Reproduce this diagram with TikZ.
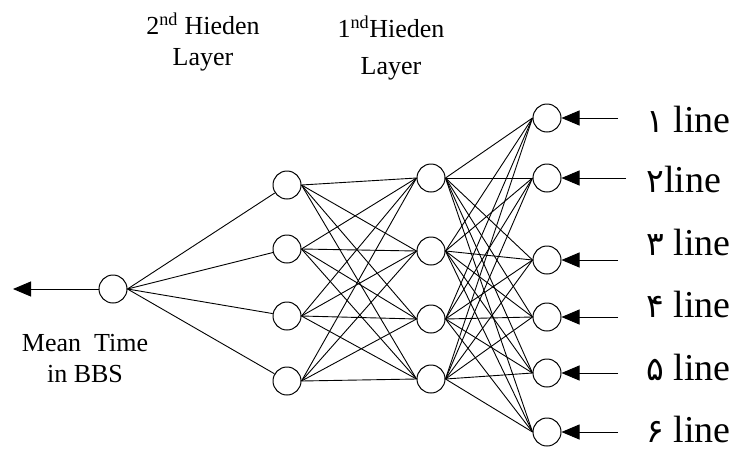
\documentclass[tikz,border=0pt]{standalone}
\usepackage{fontspec}
\setmainfont{Liberation Serif}
\newfontfamily\arabicfont[Script=Arabic]{DejaVu Sans}
\TeXXeTstate=1
\usetikzlibrary{arrows.meta}

\tikzset{%
  every neuron/.style={
    circle,
    draw,
    line width=1pt,
    minimum size=28pt,
    inner sep=0pt
  },
  line label/.style={
    anchor=base west,
    inner sep=0pt,
    font=\fontsize{38}{42}\selectfont
  },
  layer label/.style={
    align=center,
    inner sep=0pt,
    font=\fontsize{26}{31}\selectfont
  },
}

\begin{document}
\begin{tikzpicture}[x=1pt, y=-1pt, >={Triangle[length=18pt, width=15pt]}, line width=0.9pt]
\useasboundingbox (0,0) rectangle (738,450);

\node [every neuron] (output) at (113,289) {};

\foreach \y [count=\i] in {185,249,316,381}
  \node [every neuron] (hidden2-\i) at (287,\y) {};

\foreach \y [count=\i] in {178,251,319,379}
  \node [every neuron] (hidden1-\i) at (431,\y) {};

\foreach \y [count=\i] in {118,178,260,317,373,432}
  \node [every neuron] (input-\i) at (547,\y) {};

% arrows into the input layer
\foreach \d [count=\i] in {71,79,71,71,71,71}
  \path (input-\i) ++(\d,0) coordinate (feed-\i);
\foreach \i in {1,...,6}
  \draw [->] (feed-\i) -- (input-\i);

\path (output) ++(-100,0) coordinate (result);
\draw [->] (output) -- (result);

\foreach \n/\g/\y [count=\i] in {۱/\ /132,۲//192,۳/\ /255,۴/\ /317,۵/\ /380,۶/\ /442}
  \node [line label] (label-\i) at (646,\y)
    {{\arabicfont\fontsize{33}{36}\selectfont\beginR\n\endR}\g line};

\foreach \i in {1,...,4}
  \draw (output.east) -- (hidden2-\i);

\foreach \i in {1,...,4}
  \foreach \j in {1,...,4}
    \draw (hidden2-\i.east) -- (hidden1-\j.west);

\foreach \i in {1,...,4}
  \foreach \j in {1,...,6}
    \draw (hidden1-\i.east) -- (input-\j.west);

\node [layer label] (title-2) at (203,42) {2\textsuperscript{nd} Hieden\\Layer};
\node [layer label] (title-1) at (391,48) {1\textsuperscript{nd}Hieden\\[6pt]Layer};
\node [layer label] (caption) at (85,359) {Mean~~Time\\in BBS};

\end{tikzpicture}
\end{document}
